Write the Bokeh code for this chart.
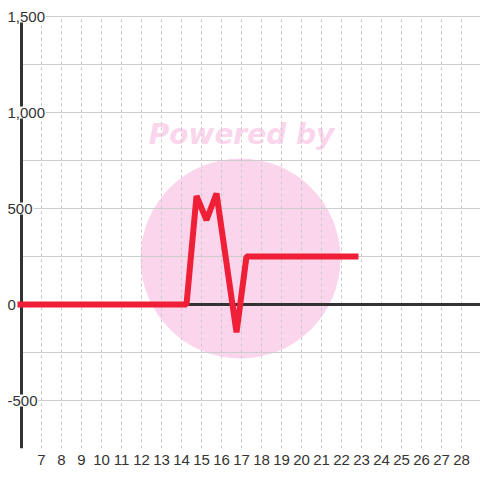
from bokeh.plotting import figure
from bokeh.models import FixedTicker, Label
from bokeh.core.properties import value
from bokeh.embed import file_html
from bokeh.resources import INLINE

# ---- data ----
series_x = [5.8, 14.25, 14.75, 15.25, 15.75, 16.75, 17.25, 22.85]
series_y = [0, 0, 565, 440, 578, -145, 250, 250]

x_tick_values = list(range(7, 29))
y_grid_values = [-750, -500, -250, 0, 250, 500, 750, 1000, 1250, 1500]
y_label_values = [1500, 1000, 500, 0, -500]
y_label_texts = ["1,500", "1,000", "500", "0", "-500"]

axis_x = 6
y_min, y_max = -750, 1500

# ---- layout constants ----
W, H = 480, 480
px_per_x = 20.0
px_per_y = 96.0 / 500.0
x_start = axis_x - 21 / px_per_x
x_end = x_start + W / px_per_x
frame_h = 448
y_end = y_min + frame_h / px_per_y

p = figure(width=W, height=H, output_backend="svg", toolbar_location=None,
           x_range=(x_start, x_end), y_range=(y_min, y_end),
           y_axis_location=None, min_border_left=0, min_border_right=0,
           min_border_top=0, min_border_bottom=H - frame_h,
           background_fill_color="white", border_fill_color="white")
p.outline_line_color = None

# watermark (under grid)
p.circle(x=[16.95], y=[239.6], radius=5.0, fill_color="#fbd5ec",
         line_color=None, level="image")
p.text(x=[17.0], y=[886], text=["Powered by"], text_align="center",
       text_baseline="alphabetic", text_font=value("DejaVu Sans"),
       text_font_style="bold italic", text_font_size="28px",
       text_color="#fbd5ec", level="image")

# grids
p.xgrid.ticker = FixedTicker(ticks=x_tick_values)
p.xgrid.grid_line_color = "#c8c8c8"
p.xgrid.grid_line_dash = "3 3"
p.xgrid.grid_line_width = 1
p.xgrid.cross_bounds = (y_min, y_max)
p.ygrid.ticker = FixedTicker(ticks=y_grid_values)
p.ygrid.grid_line_color = "#cccccc"
p.ygrid.grid_line_width = 1
p.ygrid.cross_bounds = (axis_x, x_end)

# axis lines
p.segment(x0=[axis_x], y0=[y_min], x1=[axis_x], y1=[y_max],
          line_color="#333333", line_width=3)
p.segment(x0=[axis_x], y0=[0], x1=[x_end], y1=[0],
          line_color="#333333", line_width=3)

# series
p.line(series_x, series_y, line_color="#ee1f36", line_width=6,
       line_join="bevel")

# y labels with white boxes
for v, t in zip(y_label_values, y_label_texts):
    p.add_layout(Label(x=x_start, y=v, text=t, x_offset=6,
                       text_align="left", text_baseline="middle",
                       text_font="Liberation Sans", text_font_size="15px",
                       text_color="#333333", background_fill_color="white",
                       padding=1))

# x axis
xa = p.xaxis[0]
xa.ticker = FixedTicker(ticks=x_tick_values)
xa.axis_line_color = None
xa.major_tick_line_color = None
xa.minor_tick_line_color = None
xa.major_tick_out = 0
xa.major_label_standoff = 6
xa.major_label_text_font = "Liberation Sans"
xa.major_label_text_font_size = "15px"
xa.major_label_text_color = "#333333"

open("out.html", "w").write(file_html(p, INLINE))
